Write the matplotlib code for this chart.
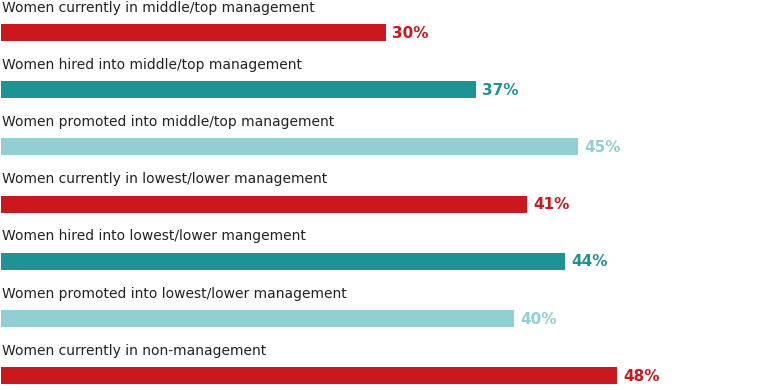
import numpy as np
import matplotlib
matplotlib.use("Agg")
from matplotlib import pyplot as plt

labels = ['Women currently in middle/top management',
          'Women hired into middle/top management',
          'Women promoted into middle/top management',
          'Women currently in lowest/lower management',
          'Women hired into lowest/lower mangement',
          'Women promoted into lowest/lower management',
          'Women currently in non-management']
values = [30, 37, 45, 41, 44, 40, 48]
kinds = ['current', 'hired', 'promoted', 'current', 'hired', 'promoted', 'current']

palette = {'current': '#CC171C', 'hired': '#1E9393', 'promoted': '#91D0D2'}

fig = plt.figure(figsize=(7.68, 3.9), dpi=100)
ax = fig.add_axes([0, 0, 1, 1])

y = np.arange(len(values))
colors = [palette[k] for k in kinds]
ax.barh(y, values, height=0.30, color=colors, left=0)

for i, (lab, v, c) in enumerate(zip(labels, values, colors)):
    ax.text(0.1, i - 0.435, lab, ha='left', va='center', fontsize=10,
            color='#222222', family='DejaVu Sans')
    ax.text(v + 0.5, i + 0.01, f'{v}%', ha='left', va='center', fontsize=11,
            fontweight='bold', color=c, family='DejaVu Sans')

ax.set_xlim(-0.08, 59.8)
ax.set_ylim(6.25, -0.568)
ax.axis('off')

fig.savefig('out.png', dpi=100)
